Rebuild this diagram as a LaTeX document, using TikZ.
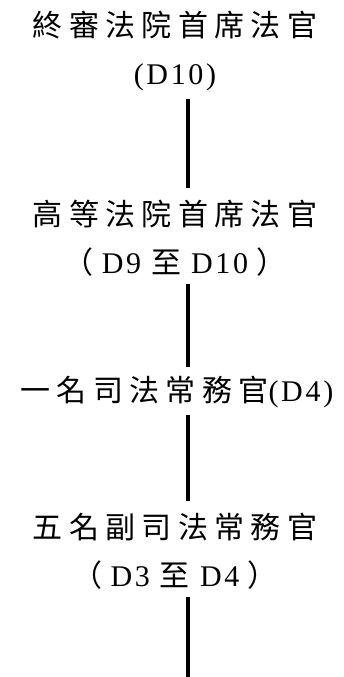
\documentclass[tikz,border=0pt]{standalone}
\usepackage{fontspec}
\setmainfont{Liberation Serif}
\newfontfamily\cjk[LetterSpace=21]{Noto Sans CJK TC}
\newfontfamily\lat[LetterSpace=9]{Liberation Serif}
\tikzset{
  post/.style={align=center, inner sep=0pt,
    font=\fontsize{30}{48}\selectfont},
  link/.style={line width=4.5pt}
}
\begin{document}
\begin{tikzpicture}[x=1pt,y=-1pt]
\useasboundingbox (0,0) rectangle (343,677);
\node[post] (final) at (175,51) {{\cjk 終審法院首席法官}\\{\lat (D10)}};
\node[post] (high) at (175,238) {{\cjk 高等法院首席法官}\\{\cjk （}\hspace{8pt}{\lat D9}\hspace{10pt}{\cjk 至}\hspace{10pt}{\lat D10}\hspace{8pt}{\cjk ）}};
\node[post] (reg) at (177,392) {{\cjk 一名司法常務官}{\lat (D4)}};
\node[post] (dep) at (175,551) {{\cjk 五名副司法常務官}\\{\cjk （}\hspace{8pt}{\lat D3}\hspace{10pt}{\cjk 至}\hspace{10pt}{\lat D4}\hspace{8pt}{\cjk ）}};
\coordinate (spine) at (188,0);
\coordinate (end) at (188,677);
\draw[link, shorten <=8pt, shorten >=12pt] (final.south -| spine) -- (high.north -| spine);
\draw[link, shorten <=8pt, shorten >=9pt] (high.south -| spine) -- (reg.north -| spine);
\draw[link, shorten <=7pt, shorten >=12pt] (reg.south -| spine) -- (dep.north -| spine);
\draw[link, shorten <=8pt] (dep.south -| spine) -- (end);
\end{tikzpicture}
\end{document}
